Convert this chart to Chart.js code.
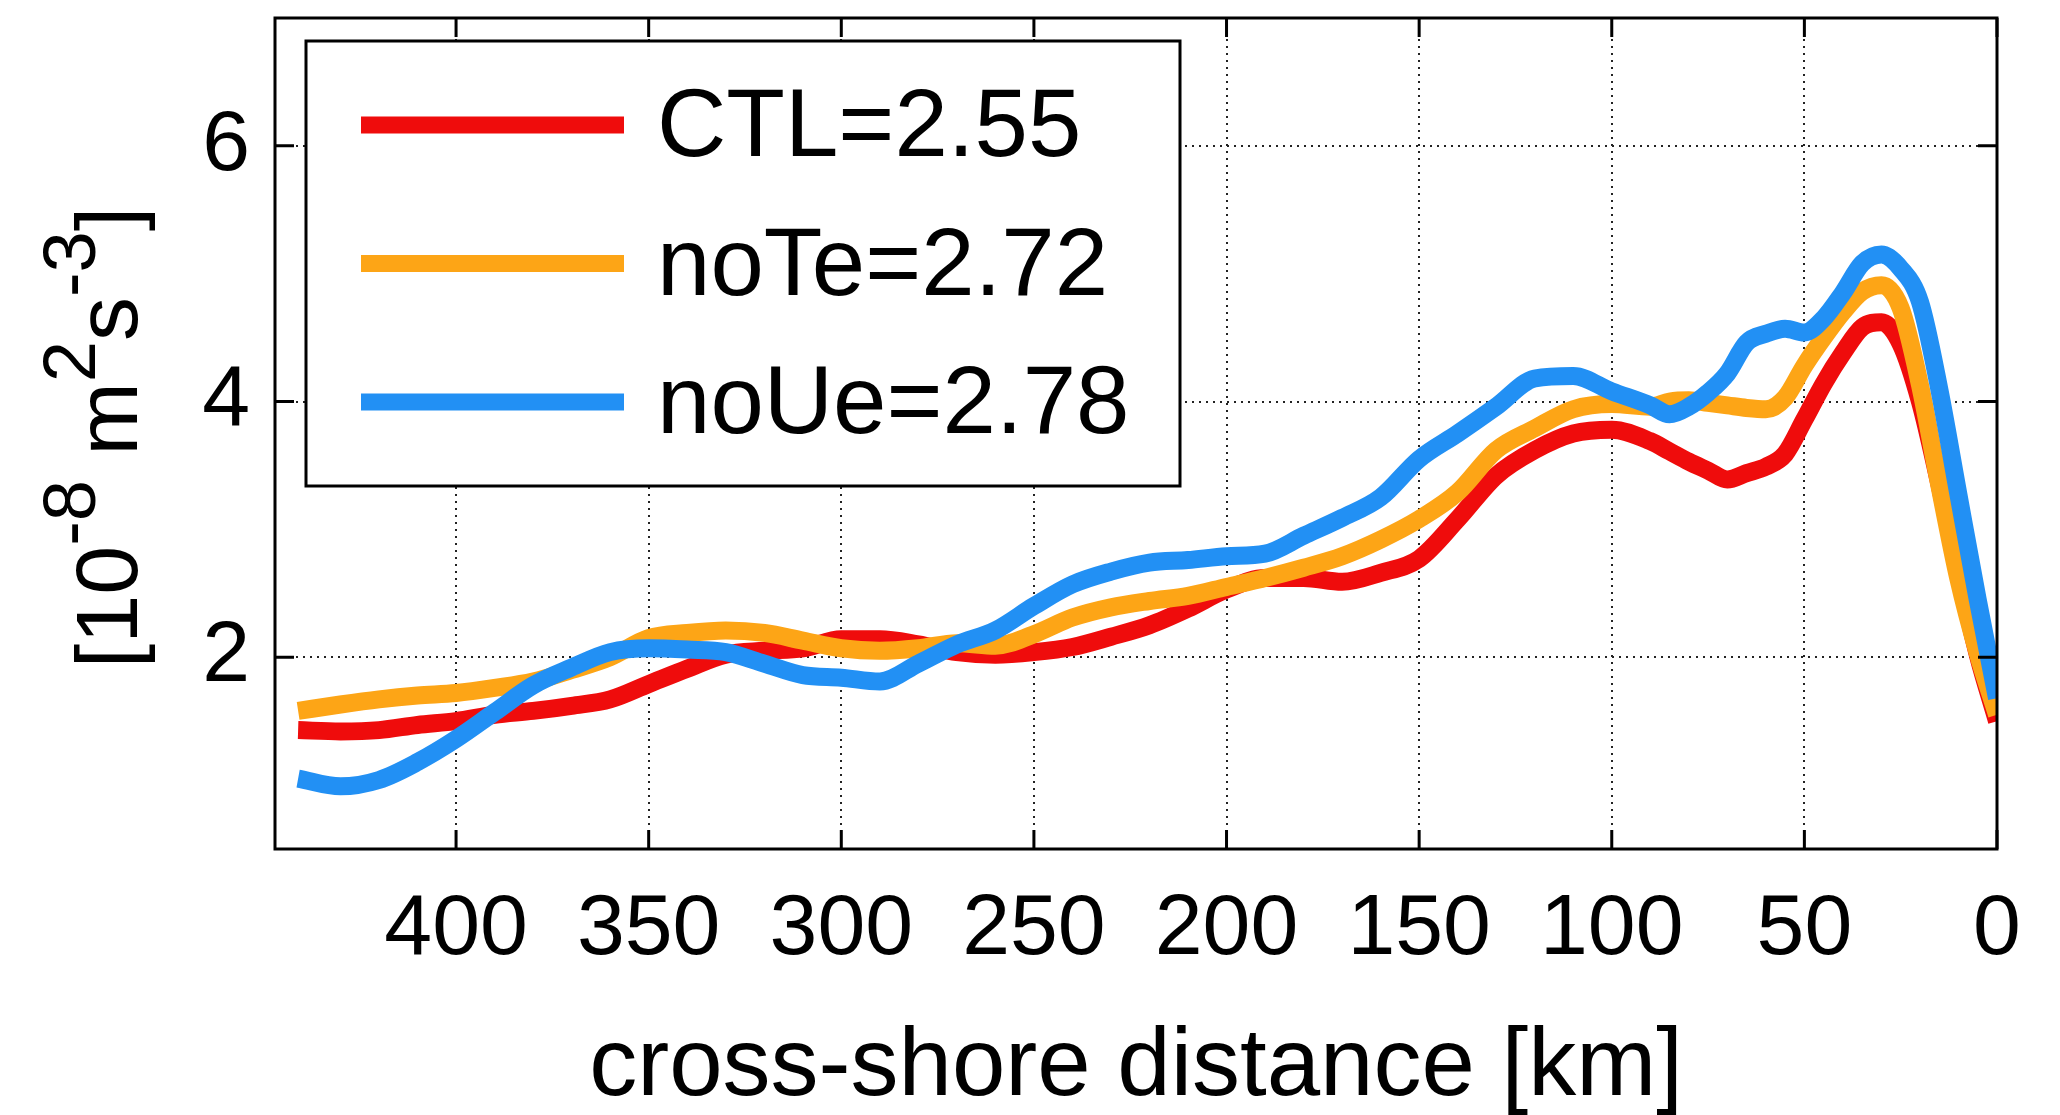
<!DOCTYPE html>
<html>
<head>
<meta charset="utf-8">
<script src="https://cdn.jsdelivr.net/npm/chart.js@4.4.1/dist/chart.umd.min.js"></script>
<style>
  html, body { margin: 0; padding: 0; background: #fff; }
  #wrap { width: 2060px; height: 1115px; }
</style>
</head>
<body>
<div id="wrap"><canvas id="chart" width="2060" height="1115"></canvas></div>
<script>
// cross-shore distance of each sample [km]
const distanceKm = [0, 5, 10, 15, 20, 25, 30, 35, 40, 45, 50, 55, 60, 65, 70, 75, 80, 85, 90,
  100, 110, 120, 130, 140, 150, 160, 170, 180, 190, 200, 210, 220, 230, 240, 250, 260, 270,
  280, 290, 300, 310, 320, 330, 340, 350, 360, 370, 380, 390, 400, 410, 420, 430, 441];

// values in 10^-8 m^2 s^-3
const ctlValues = [1.50, 2.02, 2.67, 3.36, 4.00, 4.45, 4.62, 4.58, 4.38, 4.14, 3.86, 3.59, 3.49, 3.44, 3.39, 3.46, 3.53, 3.61, 3.69,
  3.78, 3.75, 3.62, 3.42, 3.08, 2.77, 2.66, 2.59, 2.62, 2.62, 2.53, 2.38, 2.25, 2.16, 2.08, 2.04, 2.02, 2.04,
  2.10, 2.14, 2.14, 2.07, 2.05, 2.02, 1.91, 1.79, 1.67, 1.62, 1.58, 1.55, 1.50, 1.47, 1.43, 1.42, 1.43];

const noTeValues = [1.55, 2.03, 2.61, 3.35, 4.13, 4.73, 4.91, 4.86, 4.70, 4.50, 4.28, 4.03, 3.94, 3.95, 3.97, 3.99, 4.01, 4.00, 3.96,
  3.98, 3.94, 3.79, 3.62, 3.29, 3.08, 2.92, 2.79, 2.70, 2.62, 2.55, 2.48, 2.44, 2.39, 2.31, 2.18, 2.09, 2.11,
  2.07, 2.05, 2.07, 2.13, 2.19, 2.21, 2.19, 2.15, 2.00, 1.90, 1.81, 1.76, 1.72, 1.70, 1.67, 1.63, 1.58];

const noUeValues = [1.68, 2.45, 3.27, 4.10, 4.78, 5.04, 5.15, 5.08, 4.85, 4.65, 4.54, 4.57, 4.53, 4.46, 4.22, 4.07, 3.96, 3.90, 3.97,
  4.08, 4.20, 4.18, 3.96, 3.75, 3.55, 3.25, 3.09, 2.95, 2.81, 2.79, 2.76, 2.74, 2.67, 2.57, 2.40, 2.21, 2.10,
  1.95, 1.81, 1.84, 1.86, 1.95, 2.04, 2.06, 2.07, 2.04, 1.92, 1.78, 1.57, 1.36, 1.18, 1.04, 0.99, 1.05];

const seriesLabels = ['CTL=2.55', 'noTe=2.72', 'noUe=2.78'];
const seriesColors = ['#ef0c0c', '#fda516', '#2290f4'];

const xTickValues = [0, 50, 100, 150, 200, 250, 300, 350, 400];
const yTickValues = [2, 4, 6];

// y axis label, pieces with superscripts
const yLabelParts = [
  { text: '[10', sup: false },
  { text: '-8', sup: true },
  { text: ' m', sup: false },
  { text: '2', sup: true },
  { text: 's', sup: false },
  { text: '-3', sup: true },
  { text: ']', sup: false }
];

const FONT = '"Liberation Sans", Arial, Helvetica, sans-serif';

const toPoints = (vals) => distanceKm.map((d, i) => ({ x: d, y: vals[i] }));

// box around the plot plus inward tick marks on all four sides
const framePlugin = {
  id: 'frame',
  afterDraw(chart) {
    const { ctx, chartArea: a, scales: { x, y } } = chart;
    const len = 19;
    ctx.save();
    ctx.strokeStyle = '#000';
    ctx.lineWidth = 3;
    ctx.strokeRect(a.left, a.top, a.right - a.left, a.bottom - a.top);
    ctx.beginPath();
    x.ticks.forEach(t => {
      const px = x.getPixelForValue(t.value);
      ctx.moveTo(px, a.bottom); ctx.lineTo(px, a.bottom - len);
      ctx.moveTo(px, a.top); ctx.lineTo(px, a.top + len);
    });
    y.ticks.forEach(t => {
      const py = y.getPixelForValue(t.value);
      ctx.moveTo(a.left, py); ctx.lineTo(a.left + len, py);
      ctx.moveTo(a.right, py); ctx.lineTo(a.right - len, py);
    });
    ctx.stroke();
    ctx.restore();
  }
};

// boxed legend in the upper left of the plot
const boxLegendPlugin = {
  id: 'boxLegend',
  afterDraw(chart) {
    const { ctx, chartArea: a } = chart;
    const bx = a.left + 31, by = a.top + 23, bw = 874, bh = 445;
    ctx.save();
    ctx.fillStyle = '#fff';
    ctx.fillRect(bx, by, bw, bh);
    ctx.strokeStyle = '#000';
    ctx.lineWidth = 3;
    ctx.strokeRect(bx, by, bw, bh);
    chart.data.datasets.forEach((ds, i) => {
      const ly = by + 84 + i * 138.5;
      ctx.strokeStyle = ds.borderColor;
      ctx.lineWidth = 17;
      ctx.beginPath();
      ctx.moveTo(bx + 55, ly);
      ctx.lineTo(bx + 318, ly);
      ctx.stroke();
      ctx.fillStyle = '#000';
      ctx.font = '96px ' + FONT;
      ctx.textBaseline = 'middle';
      ctx.textAlign = 'left';
      ctx.fillText(ds.label, bx + 351, ly + 5);
    });
    ctx.restore();
  }
};

// rotated y label with raised exponents
const yLabelPlugin = {
  id: 'yLabel',
  afterDraw(chart) {
    const { ctx, chartArea: a } = chart;
    const mainFont = '88px ' + FONT;
    const supFont = '74px ' + FONT;
    ctx.save();
    ctx.translate(a.left - 138, (a.top + a.bottom) / 2 + 4);
    ctx.rotate(-Math.PI / 2);
    ctx.fillStyle = '#000';
    ctx.textBaseline = 'alphabetic';
    ctx.textAlign = 'left';
    let total = 0;
    yLabelParts.forEach(p => {
      ctx.font = p.sup ? supFont : mainFont;
      total += ctx.measureText(p.text).width;
    });
    let cx = -total / 2;
    yLabelParts.forEach(p => {
      ctx.font = p.sup ? supFont : mainFont;
      ctx.fillText(p.text, cx, p.sup ? -42 : 0);
      cx += ctx.measureText(p.text).width;
    });
    ctx.restore();
  }
};

const datasets = [ctlValues, noTeValues, noUeValues].map((vals, i) => ({
  label: seriesLabels[i],
  data: toPoints(vals),
  borderColor: seriesColors[i],
  backgroundColor: seriesColors[i],
  borderWidth: 18,
  pointRadius: 0,
  cubicInterpolationMode: 'monotone',
  borderJoinStyle: 'round',
  order: 3 - i
}));

new Chart(document.getElementById('chart'), {
  type: 'line',
  data: { datasets },
  options: {
    responsive: false,
    animation: false,
    layout: { padding: { top: 18, right: 63, left: 0, bottom: 0 } },
    plugins: {
      legend: { display: false },
      tooltip: { enabled: false }
    },
    scales: {
      x: {
        type: 'linear',
        reverse: true,
        min: 0,
        max: 447,
        afterBuildTicks: (scale) => { scale.ticks = xTickValues.map(v => ({ value: v })); },
        afterFit: (scale) => {
          scale.height = 266;
          scale.paddingLeft = 0;
          scale.paddingRight = 0;
        },
        grid: { color: '#222', lineWidth: 2, drawTicks: false },
        border: { display: false, dash: [2, 5] },
        ticks: {
          color: '#000',
          padding: 30,
          maxRotation: 0,
          autoSkip: false,
          font: { family: FONT, size: 86 }
        },
        title: {
          display: true,
          text: 'cross-shore distance [km]',
          color: '#000',
          padding: { top: 0, bottom: 1 },
          font: { family: FONT, size: 96, lineHeight: 0.95 }
        }
      },
      y: {
        min: 0.5,
        max: 7,
        afterBuildTicks: (scale) => { scale.ticks = yTickValues.map(v => ({ value: v })); },
        afterFit: (scale) => {
          scale.width = 275;
          scale.paddingTop = 0;
          scale.paddingBottom = 0;
        },
        grid: { color: '#222', lineWidth: 2, drawTicks: false },
        border: { display: false, dash: [2, 5] },
        ticks: {
          color: '#000',
          padding: 25,
          font: { family: FONT, size: 86 }
        }
      }
    }
  },
  plugins: [framePlugin, boxLegendPlugin, yLabelPlugin]
});
</script>
</body>
</html>
